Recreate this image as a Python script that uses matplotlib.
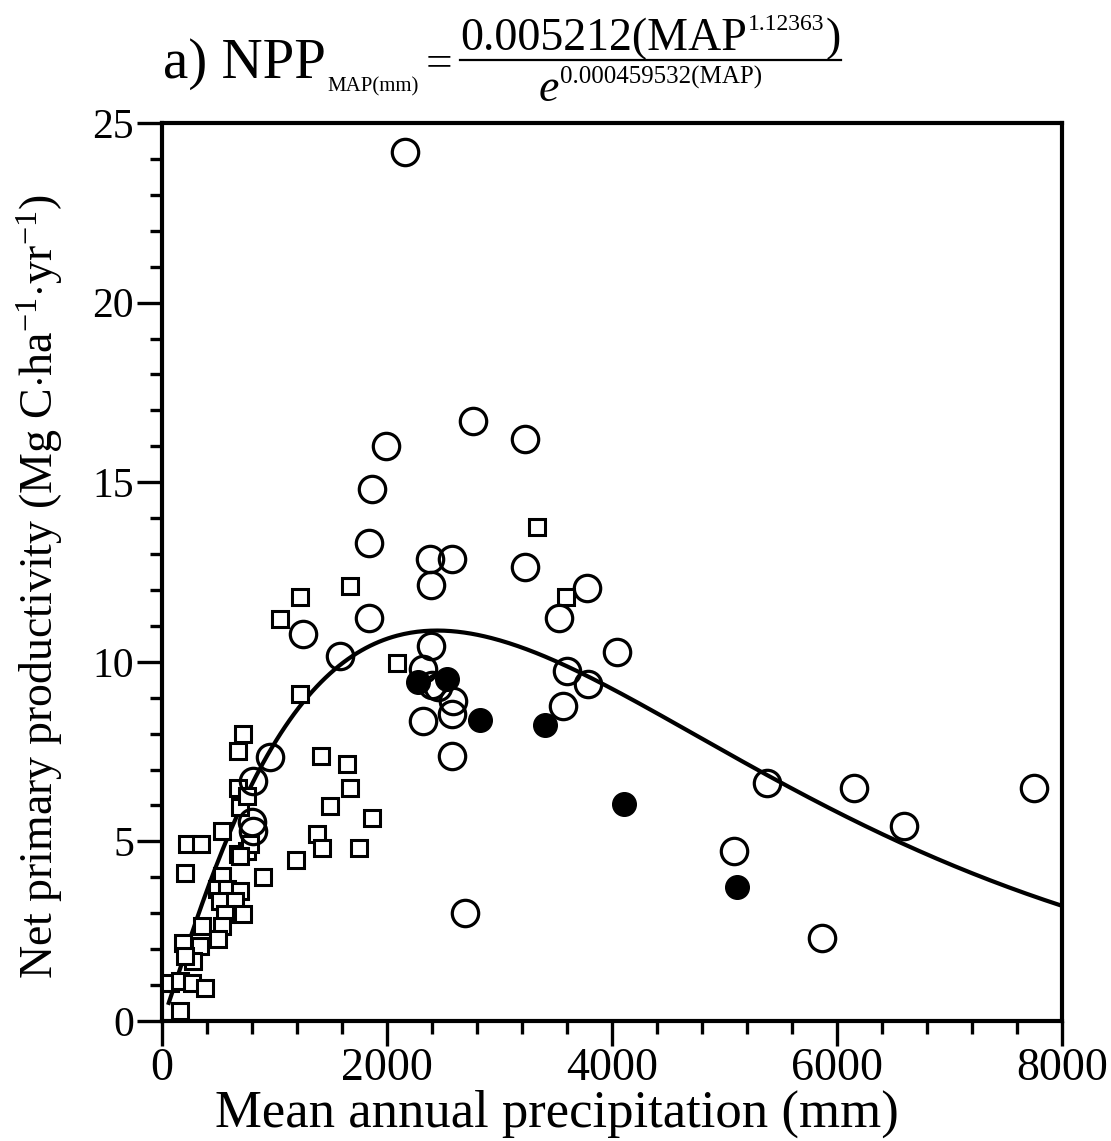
import numpy as np
import matplotlib
matplotlib.use("Agg")
import matplotlib.pyplot as plt
from matplotlib.ticker import MultipleLocator
from matplotlib.lines import Line2D

plt.rcParams['font.family'] = ['Liberation Serif', 'DejaVu Serif']
plt.rcParams['mathtext.fontset'] = 'custom'
plt.rcParams['mathtext.rm'] = 'Liberation Serif'
plt.rcParams['mathtext.it'] = 'Liberation Serif:italic'

# open circles
circ_x = [2160, 2762, 3227, 1991, 1870, 1840, 2382, 2578, 2388, 3227, 3781, 3529,
          1840, 1250, 1582, 2388, 4042, 2323, 2400, 2450, 2584, 2575, 2316, 3567,
          3597, 3789, 2578, 5375, 6151, 7751, 6596, 5087, 5864, 2693,
          960, 812, 800, 812]
circ_y = [24.2, 16.7, 16.2, 16.0, 14.8, 13.3, 12.85, 12.85, 12.15, 12.65, 12.05, 11.22,
          11.22, 10.78, 10.17, 10.43, 10.28, 9.80, 9.35, 9.30, 8.92, 8.55, 8.34, 8.78,
          9.75, 9.38, 7.39, 6.62, 6.49, 6.49, 5.43, 4.74, 2.32, 3.01,
          7.36, 6.69, 5.53, 5.30]

# filled circles
fill_x = [2278, 2531, 2827, 3404, 4107, 5114]
fill_y = [9.43, 9.52, 8.38, 8.24, 6.05, 3.72]

# squares
sq_x = [1227, 717, 678, 1411, 1642, 1671, 1493, 1864, 1375, 1420, 1754, 1188,
        901, 678, 693, 753, 531, 225, 344, 200, 678, 753, 782, 693, 531, 486,
        575, 693, 516, 649, 560, 723, 353, 531, 189, 338, 500, 278, 204, 71,
        160, 264, 382, 160, 1671, 1227, 1049, 2086, 3331, 3588]
sq_y = [9.10, 7.99, 7.51, 7.39, 7.15, 6.49, 5.99, 5.65, 5.20, 4.83, 4.83, 4.48,
        4.02, 6.50, 5.95, 6.27, 5.30, 4.94, 4.94, 4.13, 4.65, 4.74, 4.92, 4.60, 4.04, 3.67,
        3.67, 3.62, 3.34, 3.34, 2.97, 2.97, 2.65, 2.65, 2.18, 2.09, 2.28, 1.67, 1.81, 1.07,
        1.11, 1.07, 0.93, 0.28, 12.12, 11.80, 11.20, 9.96, 13.75, 11.8]

# fitted model from the title
a_coef = 0.005212
b_exp = 1.12363
c_exp = 0.000459532
map_fit = np.linspace(60, 8000, 400)
npp_fit = a_coef * map_fit ** b_exp / np.exp(c_exp * map_fit)

W, H = 1111, 1141
fig = plt.figure(figsize=(W / 100, H / 100), dpi=100)
ax = fig.add_axes([162 / W, 1 - 1021 / H, 900 / W, 898 / H])

ax.plot(map_fit, npp_fit, color='black', lw=3.0, zorder=2)
ax.plot(sq_x, sq_y, 's', ms=11, mfc='white', mec='black', mew=2.2, zorder=3)
ax.plot(circ_x, circ_y, 'o', ms=19, mfc='none', mec='black', mew=2.3, zorder=4)
ax.plot(fill_x, fill_y, 'o', ms=17, mfc='black', mec='black', mew=1, zorder=5)

ax.set_xlim(0, 8000)
ax.set_ylim(0, 25)
ax.xaxis.set_major_locator(MultipleLocator(2000))
ax.xaxis.set_minor_locator(MultipleLocator(400))
ax.yaxis.set_major_locator(MultipleLocator(5))
ax.yaxis.set_minor_locator(MultipleLocator(1))
ax.tick_params(which='major', direction='out', length=18, width=2.4)
ax.tick_params(which='minor', direction='out', length=9, width=2.4)
ax.tick_params(axis='x', which='major', pad=1, labelsize=33)
ax.tick_params(axis='y', which='major', pad=2, labelsize=30)
for s in ax.spines.values():
    s.set_linewidth(3)

fig.text(557 / W, 1 - 1114 / H, 'Mean annual precipitation (mm)',
         ha='center', va='center', fontsize=38)
fig.text(40 / W, 1 - 587 / H,
         r'Net primary productivity (Mg C$\cdot$ha$^{-1}$$\cdot$yr$^{-1}$)',
         ha='center', va='center', rotation=90, fontsize=33)

# title equation, built piece by piece (pixel coords from top)
renderer = fig.canvas.get_renderer()


def put(s, x, y_top, size, style='normal'):
    t = fig.text(x, H - y_top, s, fontsize=size, style=style,
                 ha='left', va='baseline', transform=None)
    return t, t.get_window_extent(renderer).x1


_, x = put('a) NPP', 163, 78, 41)
_, x = put('MAP(mm)', x + 2, 91, 15)
_, x = put('=', x + 6, 76, 34)
num_start = max(x + 6, 460)
_, x = put('0.005212(MAP', num_start, 50, 33)
_, x = put('1.12363', x + 1, 30, 17)
_, num_end = put(')', x + 1, 50, 33)
fig.add_artist(Line2D([num_start, num_end], [H - 60, H - 60], color='black',
                      lw=1.6, transform=None))
# denominator, centred under the numerator
t_e, x_e = put('e', 0, 101, 33, style='italic')
t_s, x_s = put('0.000459532(MAP)', x_e + 1, 84, 18)
shift = (num_start + num_end) / 2 - x_s / 2
t_e.set_x(t_e.get_position()[0] + shift)
t_s.set_x(t_s.get_position()[0] + shift)

fig.savefig('out.png', dpi=100)
